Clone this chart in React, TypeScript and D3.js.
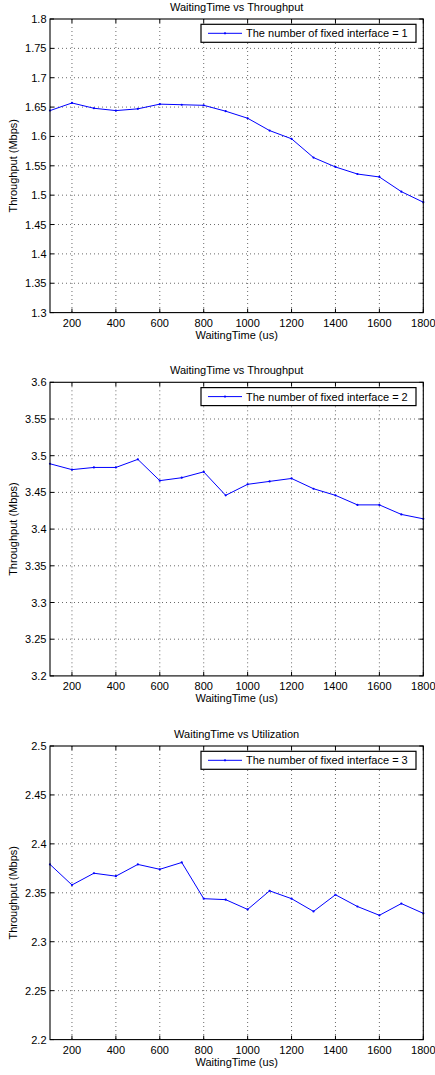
import React from "react";
import * as d3 from "d3";

// Waiting time values (us) shared by all three panels
const waitingTimes = [100, 200, 300, 400, 500, 600, 700, 800, 900, 1000, 1100, 1200, 1300, 1400, 1500, 1600, 1700, 1800];

// Measured throughput (Mbps) per number of fixed interfaces
const throughputIf1 = [1.644, 1.657, 1.648, 1.644, 1.647, 1.655, 1.654, 1.653, 1.643, 1.631, 1.61, 1.596, 1.564, 1.548, 1.536, 1.531, 1.506, 1.488];
const throughputIf2 = [3.489, 3.481, 3.484, 3.484, 3.495, 3.466, 3.47, 3.478, 3.446, 3.461, 3.465, 3.469, 3.455, 3.446, 3.433, 3.433, 3.42, 3.414];
const throughputIf3 = [2.379, 2.358, 2.37, 2.367, 2.379, 2.374, 2.381, 2.344, 2.343, 2.333, 2.352, 2.344, 2.331, 2.348, 2.336, 2.327, 2.339, 2.329];

const xTicks = [200, 400, 600, 800, 1000, 1200, 1400, 1600, 1800];
const yTicks1 = ["1.3", "1.35", "1.4", "1.45", "1.5", "1.55", "1.6", "1.65", "1.7", "1.75", "1.8"];
const yTicks2 = ["3.2", "3.25", "3.3", "3.35", "3.4", "3.45", "3.5", "3.55", "3.6"];
const yTicks3 = ["2.2", "2.25", "2.3", "2.35", "2.4", "2.45", "2.5"];

const titles = ["WaitingTime vs Throughput", "WaitingTime vs Throughput", "WaitingTime vs Utilization"];
const legendLabels = [
  "The number of fixed interface = 1",
  "The number of fixed interface = 2",
  "The number of fixed interface = 3",
];
const xLabel = "WaitingTime (us)";
const yLabel = "Throughput (Mbps)";

const FONT = "'Liberation Sans', Arial, Helvetica, sans-serif";
const W = 435;
const H = 1075;
const left = 50;
const right = 423.3;
const plotH = 293.6;
const tops = [19, 382.3, 746];
const TICK = 4;

type PanelProps = {
  top: number;
  values: number[];
  yTicks: string[];
  title: string;
  legend: string;
};

function Panel({ top, values, yTicks, title, legend }: PanelProps) {
  const bottom = top + plotH;
  const yNums = yTicks.map(Number);
  const x = d3.scaleLinear().domain([100, 1800]).range([left, right]);
  const y = d3.scaleLinear().domain([d3.min(yNums)!, d3.max(yNums)!]).range([bottom, top]);
  const line = d3
    .line<number>()
    .x((_, i) => x(waitingTimes[i]))
    .y((d) => y(d));

  const legX0 = right - 222.3;
  const legX1 = right - 7.3;
  const legY0 = top + 5.3;
  const legY1 = top + 23.3;
  const legMid = (legY0 + legY1) / 2;

  return (
    <g>
      {/* dotted grid */}
      {xTicks.map((t) => (
        <line key={"gx" + t} x1={x(t)} x2={x(t)} y1={top} y2={bottom} stroke="#444" strokeWidth={0.8} strokeDasharray="1 3" />
      ))}
      {yNums.slice(1, -1).map((t) => (
        <line key={"gy" + t} x1={left} x2={right} y1={y(t)} y2={y(t)} stroke="#444" strokeWidth={0.8} strokeDasharray="1 3" />
      ))}
      {/* inward ticks on all four sides */}
      {xTicks.map((t) => (
        <g key={"tx" + t}>
          <line x1={x(t)} x2={x(t)} y1={bottom} y2={bottom - TICK} stroke="#000" />
          <line x1={x(t)} x2={x(t)} y1={top} y2={top + TICK} stroke="#000" />
        </g>
      ))}
      {yNums.map((t) => (
        <g key={"ty" + t}>
          <line x1={left} x2={left + TICK} y1={y(t)} y2={y(t)} stroke="#000" />
          <line x1={right} x2={right - TICK} y1={y(t)} y2={y(t)} stroke="#000" />
        </g>
      ))}
      {/* data */}
      <path d={line(values) || ""} fill="none" stroke="#0000ff" strokeWidth={1} />
      {values.map((v, i) => (
        <circle key={"p" + i} cx={x(waitingTimes[i])} cy={y(v)} r={1.1} fill="#0000ff" />
      ))}
      {/* axes box */}
      <rect x={left} y={top} width={right - left} height={plotH} fill="none" stroke="#000" strokeWidth={1.1} />
      {/* tick labels */}
      {xTicks.map((t) => (
        <text key={"lx" + t} x={x(t)} y={bottom + 14.5} textAnchor="middle" fontSize={11} fontFamily={FONT} fill="#000">
          {t}
        </text>
      ))}
      {yTicks.map((t) => (
        <text key={"ly" + t} x={left - 3.5} y={y(Number(t)) + 4} textAnchor="end" fontSize={11} fontFamily={FONT} fill="#000">
          {t}
        </text>
      ))}
      {/* title and axis labels */}
      <text x={(left + right) / 2} y={top - 8.5} textAnchor="middle" fontSize={11} fontFamily={FONT} fill="#000">
        {title}
      </text>
      <text x={(left + right) / 2} y={bottom + 26} textAnchor="middle" fontSize={11} fontFamily={FONT} fill="#000">
        {xLabel}
      </text>
      <text
        transform={`translate(17, ${(top + bottom) / 2}) rotate(-90)`}
        textAnchor="middle"
        fontSize={11}
        fontFamily={FONT}
        fill="#000"
      >
        {yLabel}
      </text>
      {/* legend */}
      <rect x={legX0} y={legY0} width={legX1 - legX0} height={legY1 - legY0} fill="#fff" stroke="#000" strokeWidth={1.2} />
      <line x1={legX0 + 7} x2={legX0 + 41} y1={legMid} y2={legMid} stroke="#0000ff" strokeWidth={1} />
      <circle cx={legX0 + 24} cy={legMid} r={1.1} fill="#0000ff" />
      <text x={legX0 + 45} y={legMid + 4} fontSize={11} fontFamily={FONT} fill="#000">
        {legend}
      </text>
    </g>
  );
}

export default function App() {
  const series = [throughputIf1, throughputIf2, throughputIf3];
  const ticks = [yTicks1, yTicks2, yTicks3];
  return (
    <svg width={W} height={H} style={{ position: "absolute", left: 0, top: 0, background: "#fff" }}>
      <rect width={W} height={H} fill="#fff" />
      {series.map((s, i) => (
        <Panel key={i} top={tops[i]} values={s} yTicks={ticks[i]} title={titles[i]} legend={legendLabels[i]} />
      ))}
    </svg>
  );
}
